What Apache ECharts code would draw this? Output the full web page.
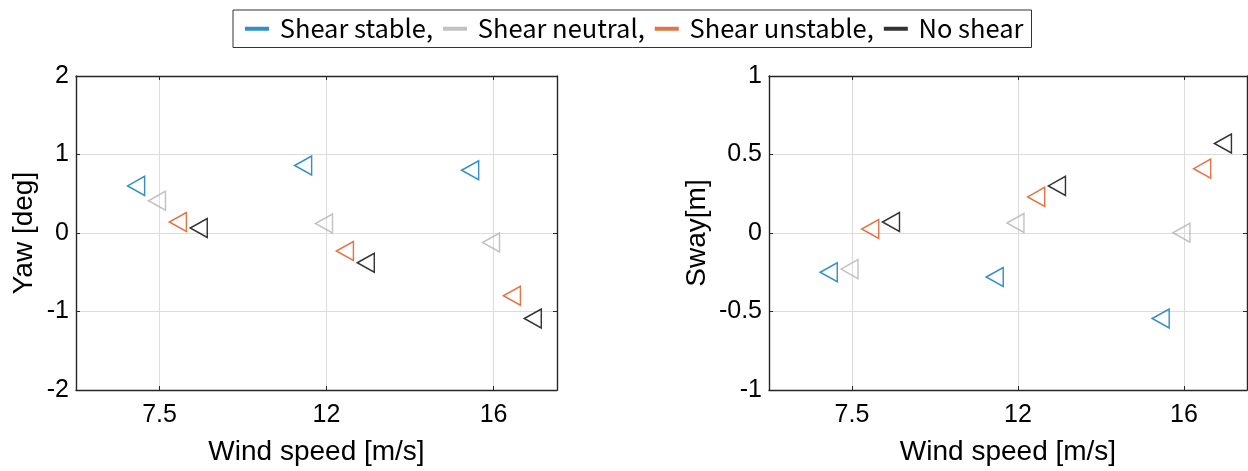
<!DOCTYPE html>
<html>
<head>
<meta charset="utf-8">
<script src="https://cdn.jsdelivr.net/npm/echarts@6.0.0/dist/echarts.min.js"></script>
<style>html,body{margin:0;padding:0;background:#fff;}#c{width:1248px;height:471px;}</style>
</head>
<body>
<div id="c"></div>
<script>
// ---- data ----
const categories = ['7.5', '12', '16'];
const seriesNames = ['Shear stable,', 'Shear neutral,', 'Shear unstable,', 'No shear'];
const seriesColors = ['#0072BD', '#B3B3B3', '#D95319', '#000000'];
const dodge = [-0.14, -0.015, 0.11, 0.235];   // horizontal dodge of each case within a wind-speed group

const yawStable   = [0.60, 0.86, 0.80];
const yawNeutral  = [0.41, 0.12, -0.12];
const yawUnstable = [0.14, -0.23, -0.80];
const yawNoShear  = [0.064, -0.38, -1.09];

const swayStable   = [-0.25, -0.28, -0.545];
const swayNeutral  = [-0.23, 0.064, 0.002];
const swayUnstable = [0.026, 0.23, 0.41];
const swayNoShear  = [0.07, 0.30, 0.57];

const yawTicks = [-2, -1, 0, 1, 2];
const swayTicks = [-1, -0.5, 0, 0.5, 1];

// ---- build ----
const yawSets = [yawStable, yawNeutral, yawUnstable, yawNoShear];
const swaySets = [swayStable, swayNeutral, swayUnstable, swayNoShear];
const catPos = categories.map((c, i) => i + 1);
const FONT = 'Liberation Sans';
const axisColor = '#262626';
const gridColor = '#dcdcdc';
const TRI = 'path://M0,10 L17,0 L17,20 Z';
const AXW = 1.4;

function mainX(gridIndex) {
  return {
    type: 'value', gridIndex: gridIndex, min: 0.5, max: 3.38,
    name: 'Wind speed [m/s]', nameLocation: 'middle', nameGap: 48,
    nameTextStyle: { fontFamily: FONT, fontSize: 28, color: '#000' },
    axisLine: { show: true, onZero: false, lineStyle: { color: axisColor, width: AXW } },
    axisTick: { show: true, inside: true, length: 4, customValues: catPos, lineStyle: { color: axisColor } },
    axisLabel: { customValues: catPos, margin: 13, fontFamily: FONT, fontSize: 25, color: '#000',
      formatter: v => categories[Math.round(v) - 1] },
    splitLine: { show: true, lineStyle: { color: gridColor, width: 1 } }
  };
}
function boxX(gridIndex) {
  return {
    type: 'value', gridIndex: gridIndex, position: 'top', min: 0.5, max: 3.38,
    axisLine: { show: true, onZero: false, lineStyle: { color: axisColor, width: AXW } },
    axisTick: { show: true, inside: true, length: 4, customValues: catPos, lineStyle: { color: axisColor } },
    axisLabel: { show: false }, splitLine: { show: false }
  };
}
function mainY(gridIndex, name, ticks, gap) {
  return {
    type: 'value', gridIndex: gridIndex, min: ticks[0], max: ticks[ticks.length - 1],
    interval: ticks[1] - ticks[0],
    name: name, nameLocation: 'middle', nameGap: gap,
    nameTextStyle: { fontFamily: FONT, fontSize: 28, color: '#000' },
    axisLine: { show: true, onZero: false, lineStyle: { color: axisColor, width: AXW } },
    axisTick: { show: true, inside: true, length: 4, lineStyle: { color: axisColor } },
    axisLabel: { margin: 7, fontFamily: FONT, fontSize: 25, color: '#000' },
    splitLine: { show: true, lineStyle: { color: gridColor, width: 1 } }
  };
}
function boxY(gridIndex, ticks) {
  return {
    type: 'value', gridIndex: gridIndex, position: 'right', min: ticks[0], max: ticks[ticks.length - 1],
    interval: ticks[1] - ticks[0],
    axisLine: { show: true, onZero: false, lineStyle: { color: axisColor, width: AXW } },
    axisTick: { show: true, inside: true, length: 4, lineStyle: { color: axisColor } },
    axisLabel: { show: false }, splitLine: { show: false }
  };
}

const series = [];
[yawSets, swaySets].forEach((sets, g) => {
  sets.forEach((vals, k) => {
    series.push({
      type: 'scatter', name: seriesNames[k],
      xAxisIndex: g * 2, yAxisIndex: g * 2,
      symbol: TRI, symbolSize: [17, 19],
      itemStyle: { color: 'rgba(0,0,0,0)', borderColor: seriesColors[k], borderWidth: 1.5 },
      data: vals.map((v, i) => [catPos[i] + dodge[k], v]),
      z: 3
    });
  });
});

const option = {
  animation: false,
  backgroundColor: '#fff',
  grid: [
    { left: 76, top: 76, width: 481, height: 314 },
    { left: 769, top: 76, width: 478, height: 314 }
  ],
  xAxis: [mainX(0), boxX(0), mainX(1), boxX(1)],
  yAxis: [mainY(0, 'Yaw [deg]', yawTicks, 38), boxY(0, yawTicks),
          mainY(1, 'Sway[m]', swayTicks, 58), boxY(1, swayTicks)],
  legend: {
    left: 233, top: 10,
    orient: 'horizontal',
    padding: [6, 8, 6, 12],
    borderColor: '#333', borderWidth: 1,
    itemWidth: 24, itemHeight: 4, itemGap: 10,
    icon: 'rect',
    itemStyle: { borderWidth: 0 },
    formatter: n => ' ' + n,
    textStyle: { fontFamily: 'Noto Sans CJK KR', fontSize: 25.5, color: '#000' },
    data: seriesNames.map((n, k) => ({ name: n, itemStyle: { color: seriesColors[k], borderWidth: 0 } }))
  },
  series: series
};
const chart = echarts.init(document.getElementById('c'), null, { renderer: 'canvas' });
chart.setOption(option);
</script>
</body>
</html>
